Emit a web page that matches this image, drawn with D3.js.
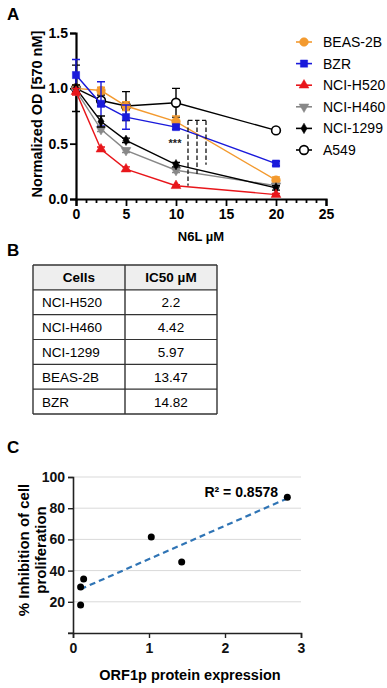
<!DOCTYPE html>
<html>
<head>
<meta charset="utf-8">
<script src="https://cdn.jsdelivr.net/npm/d3@7"></script>
<style>
  body { margin: 0; background: #fff; }
  svg { display: block; font-family: "Liberation Sans", Arial, sans-serif; }
</style>
</head>
<body>
<div id="graph"></div>
<script>
// panel A: dose response
var doses = [0, 2.5, 5, 10, 20]
var cellLines = ['BEAS-2B', 'BZR', 'NCI-H520', 'NCI-H460', 'NCI-1299', 'A549']
var beasValues  = [1.00, 0.98, 0.84, 0.70, 0.17]
var bzrValues   = [1.12, 0.86, 0.74, 0.65, 0.32]
var h520Values  = [0.97, 0.45, 0.27, 0.12, 0.04]
var h460Values  = [0.98, 0.63, 0.44, 0.26, 0.12]
var h1299Values = [1.00, 0.70, 0.53, 0.31, 0.10]
var a549Values  = [1.00, 0.89, 0.84, 0.87, 0.62]
var beasErr  = [0.03, 0.03, 0.04, 0.05, 0.03]
var bzrErr   = [0.14, 0.20, 0.11, 0.02, 0.02]
var h520Err  = [0.03, 0.02, 0.02, 0.01, 0.01]
var h460Err  = [0.03, 0.02, 0.02, 0.02, 0.01]
var h1299Err = [0.03, 0.05, 0.02, 0.02, 0.02]
var a549Err  = [0.21, 0.05, 0.13, 0.13, 0.02]
// bracket from BEAS-2B at 10 µM down to the cancer lines
var bracketX = [11.2, 12.1, 13.0]
var bracketBottom = [0.12, 0.22, 0.31]
var bracketTop = 0.71

// panel B: table
var tableHeader = ['Cells', 'IC50 µM']
var tableCells = ['NCI-H520', 'NCI-H460', 'NCI-1299', 'BEAS-2B', 'BZR']
var tableIC50 = ['2.2', '4.42', '5.97', '13.47', '14.82']

// panel C: scatter
var orf1p = [0.10, 0.10, 0.14, 1.03, 1.43, 2.82]
var inhibition = [29.5, 18, 34.6, 61.5, 45.5, 87]
var rSquared = '0.8578'

var svg = d3.select('#graph').append('svg').attr('width', 387).attr('height', 688)

function label(text, x, y){
  svg.append('text').attr('x', x).attr('y', y).text(text)
    .style('font-size', '17px').style('font-weight', 'bold')
}

// ---------- A ----------
label('A', 7, 20)

var x = d3.scaleLinear().domain([0, 25]).range([76, 326])
var y = d3.scaleLinear().domain([0, 1.5]).range([199, 33])

var gA = svg.append('g')

gA.append('g').attr('transform', 'translate(0,199)')
  .call(d3.axisBottom(x).tickValues(d3.range(0, 26, 5)).tickSize(7).tickPadding(3))
gA.append('g').attr('transform', 'translate(0,199)')
  .call(d3.axisBottom(x).tickValues(d3.range(0, 26, 1).filter(d => d % 5)).tickSize(4).tickFormat(''))
  .call(g => g.select('.domain').remove())
gA.append('g').attr('transform', 'translate(76,0)')
  .call(d3.axisLeft(y).tickValues([0, 0.5, 1, 1.5]).tickFormat(d3.format('.1f')).tickSize(6).tickPadding(2))

gA.selectAll('.domain').attr('stroke-width', 2.2).attr('stroke', '#000')
gA.selectAll('.tick line').attr('stroke-width', 1.8).attr('stroke', '#000')
gA.selectAll('.tick text').style('font-size', '14px').style('font-weight', 'bold')
  .style('font-family', '"Liberation Sans", Arial, sans-serif').attr('fill', '#000')

gA.append('text').attr('x', 201).attr('y', 241).attr('text-anchor', 'middle')
  .style('font-size', '13px').style('font-weight', 'bold').text('N6L µM')
gA.append('text').attr('transform', 'translate(42,114) rotate(-90)').attr('text-anchor', 'middle')
  .style('font-size', '14.5px').style('font-weight', 'bold').text('Normalized OD [570 nM]')

var series = [
  {name: cellLines[0], values: beasValues, err: beasErr, color: '#f39a2f', shape: 'circle', fill: true},
  {name: cellLines[1], values: bzrValues, err: bzrErr, color: '#1a1adb', shape: 'square', fill: true},
  {name: cellLines[2], values: h520Values, err: h520Err, color: '#e8161b', shape: 'triangle', fill: true},
  {name: cellLines[3], values: h460Values, err: h460Err, color: '#888888', shape: 'down', fill: true},
  {name: cellLines[4], values: h1299Values, err: h1299Err, color: '#000000', shape: 'diamond', fill: true},
  {name: cellLines[5], values: a549Values, err: a549Err, color: '#000000', shape: 'circle', fill: false},
]

var symbolFor = {
  circle: d3.symbol().type(d3.symbolCircle).size(60),
  square: d3.symbol().type(d3.symbolSquare).size(52),
  triangle: d3.symbol().type(d3.symbolTriangle).size(42),
  down: d3.symbol().type(d3.symbolTriangle).size(42),
  diamond: d3.symbol().type(d3.symbolDiamond).size(32),
}

function drawMarker(sel, s){
  var p = sel.append('path').attr('d', symbolFor[s.shape]())
  if (s.shape == 'down') p.attr('transform', 'rotate(180)')
  p.attr('fill', s.fill ? s.color : '#fff').attr('stroke', s.color)
    .attr('stroke-width', s.fill ? 0.5 : 1.6)
}

var line = d3.line().x((d, i) => x(doses[i])).y(d => y(d))

// draw back to front so red/grey sit under black like the reference
var drawOrder = [5, 0, 1, 3, 4, 2]
drawOrder.forEach(k => {
  var s = series[k]
  var g = gA.append('g')
  g.append('path').attr('d', line(s.values)).attr('fill', 'none')
    .attr('stroke', s.color).attr('stroke-width', 1.4)
  s.values.forEach((v, i) => {
    var e = s.err[i]
    var cx = x(doses[i])
    g.append('path')
      .attr('d', `M${cx},${y(v - e)}V${y(v + e)}M${cx - 4},${y(v - e)}h8M${cx - 4},${y(v + e)}h8`)
      .attr('stroke', s.color).attr('stroke-width', 1.4).attr('fill', 'none')
  })
  g.selectAll('g.pt').data(s.values).join('g')
    .attr('transform', (v, i) => `translate(${x(doses[i])},${y(v)})`)
    .each(function(){ drawMarker(d3.select(this), s) })
})

// significance brackets
var bg = gA.append('g').attr('fill', 'none').attr('stroke', '#111')
  .attr('stroke-width', 1.3).attr('stroke-dasharray', '4.5,2.5')
bg.append('path').attr('d', `M${x(bracketX[0])},${y(bracketTop)}H${x(bracketX[2])}`)
bracketX.forEach((bx, i) => {
  bg.append('path').attr('d', `M${x(bx)},${y(bracketTop)}V${y(bracketBottom[i])}`)
})
gA.append('text').attr('x', x(10) - 1).attr('y', y(0.47)).attr('text-anchor', 'middle')
  .style('font-size', '11px').style('font-weight', 'bold').attr('fill', '#222').text('***')

// legend
var lg = gA.append('g')
series.forEach((s, i) => {
  var ly = 42 + i*21.6
  var row = lg.append('g').attr('transform', `translate(304,${ly})`)
  row.append('path').attr('d', 'M-8,0H8').attr('stroke', s.color).attr('stroke-width', 1.6)
  drawMarker(row, s)
  row.append('text').attr('x', 19).attr('y', 5).style('font-size', '14px').text(s.name)
})

// ---------- B ----------
label('B', 7, 256)

var colX = [33, 125, 217]
var rowY = d3.scaleLinear().domain([0, 6]).range([265, 414])
var tb = svg.append('g')
tb.append('rect').attr('x', colX[0]).attr('y', rowY(0))
  .attr('width', colX[2] - colX[0]).attr('height', rowY(1) - rowY(0)).attr('fill', '#eeeeee')
d3.range(7).forEach(r => {
  tb.append('line').attr('x1', colX[0]).attr('x2', colX[2]).attr('y1', rowY(r)).attr('y2', rowY(r))
    .attr('stroke', '#333').attr('stroke-width', r == 0 || r == 6 ? 1.6 : 1.2)
})
colX.forEach(cx => {
  tb.append('line').attr('x1', cx).attr('x2', cx).attr('y1', rowY(0)).attr('y2', rowY(6))
    .attr('stroke', '#333').attr('stroke-width', 1.4)
})
tableHeader.forEach((h, i) => {
  tb.append('text').attr('x', (colX[i] + colX[i + 1])/2).attr('y', rowY(0.5) + 5)
    .attr('text-anchor', 'middle').style('font-size', '13.5px').style('font-weight', 'bold').text(h)
})
tableCells.forEach((c, i) => {
  tb.append('text').attr('x', colX[0] + 9).attr('y', rowY(i + 1.5) + 5)
    .style('font-size', '13.5px').text(c)
  tb.append('text').attr('x', (colX[1] + colX[2])/2).attr('y', rowY(i + 1.5) + 5)
    .attr('text-anchor', 'middle').style('font-size', '13.5px').text(tableIC50[i])
})

// ---------- C ----------
label('C', 7, 453)

var xc = d3.scaleLinear().domain([0, 3]).range([73, 301])
var yc = d3.scaleLinear().domain([0, 100]).range([633, 477])
var gC = svg.append('g')

gC.append('g').selectAll('line').data([20, 40, 60, 80, 100]).join('line')
  .attr('x1', xc(0)).attr('x2', xc(3)).attr('y1', d => yc(d)).attr('y2', d => yc(d))
  .attr('stroke', '#d9d9d9').attr('stroke-width', 1)

gC.append('g').attr('transform', `translate(0,${yc(0)})`)
  .call(d3.axisBottom(xc).ticks(3).tickSize(5).tickPadding(5))
gC.append('g').attr('transform', `translate(${xc(0)},0)`)
  .call(d3.axisLeft(yc).tickValues([20, 40, 60, 80, 100]).tickSize(5).tickPadding(3))
  .call(g => g.append('line').attr('x1', -5).attr('x2', 0).attr('y1', yc(0)).attr('y2', yc(0)).attr('stroke', '#222'))
gC.selectAll('.domain').attr('stroke', '#222').attr('stroke-width', 1.6)
gC.selectAll('.tick line').attr('stroke', '#222').attr('stroke-width', 1.4)
gC.selectAll('.tick text').style('font-size', '14px').style('font-weight', 'bold')
  .style('font-family', '"Liberation Sans", Arial, sans-serif').attr('fill', '#111')

// least squares trend line
var mx = d3.mean(orf1p), my = d3.mean(inhibition)
var slope = d3.sum(orf1p, (v, i) => (v - mx)*(inhibition[i] - my)) / d3.sum(orf1p, v => (v - mx)*(v - mx))
var intercept = my - slope*mx
var fitX = d3.extent(orf1p)
gC.append('line')
  .attr('x1', xc(fitX[0])).attr('y1', yc(intercept + slope*fitX[0]))
  .attr('x2', xc(fitX[1])).attr('y2', yc(intercept + slope*fitX[1]))
  .attr('stroke', '#2f74b5').attr('stroke-width', 2.2).attr('stroke-dasharray', '6,4')

gC.selectAll('circle.dot').data(orf1p).join('circle')
  .attr('cx', d => xc(d)).attr('cy', (d, i) => yc(inhibition[i])).attr('r', 3.5).attr('fill', '#000')

gC.append('text').attr('x', 278).attr('y', 497).attr('text-anchor', 'end')
  .style('font-size', '14px').style('font-weight', 'bold').text('R² = ' + rSquared)

gC.append('text').attr('x', 190).attr('y', 680).attr('text-anchor', 'middle')
  .style('font-size', '14.5px').style('font-weight', 'bold').text('ORF1p protein expression')
var yt = gC.append('text').attr('transform', 'translate(0,550) rotate(-90)').attr('text-anchor', 'middle')
  .style('font-size', '15px').style('font-weight', 'bold')
yt.append('tspan').attr('x', 0).attr('y', 29).text('% Inhibition of cell')
yt.append('tspan').attr('x', 0).attr('y', 46).text('proliferation')
</script>
</body>
</html>
